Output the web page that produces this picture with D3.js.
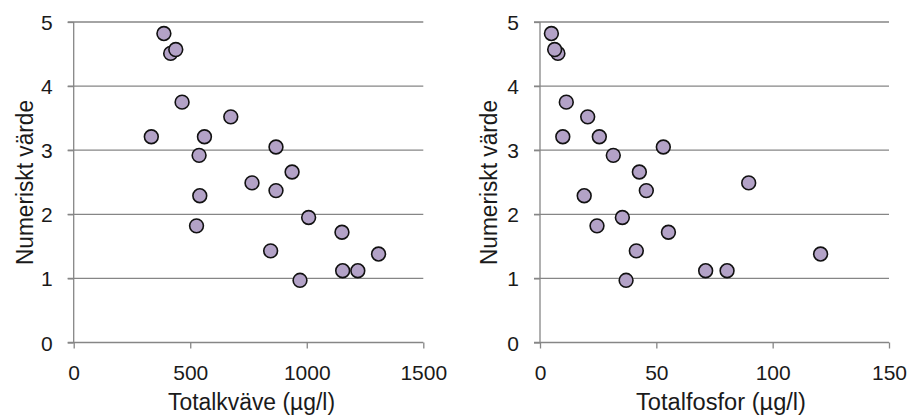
<!DOCTYPE html>
<html>
<head>
<meta charset="utf-8">
<script src="https://cdn.jsdelivr.net/npm/d3@7"></script>
<style>
  html, body { margin: 0; padding: 0; background: #fff; }
  svg { display: block; }
  text { font-family: "Liberation Sans", Arial, sans-serif; fill: #1a1a1a; }
</style>
</head>
<body>
<svg id="chart" width="908" height="416"></svg>
<script>
// Data
const varde      = [4.82, 4.51, 4.57, 3.75, 3.52, 3.21, 3.21, 3.05, 2.92, 2.66, 2.49, 2.37, 2.29, 1.95, 1.82, 1.72, 1.43, 1.38, 1.12, 1.12, 0.97];
const totalkvave = [387, 416, 438, 465, 674, 333, 561, 868, 538, 937, 765, 868, 541, 1008, 527, 1151, 845, 1308, 1154, 1219, 971];
const totalfosfor= [4.9, 7.7, 6.3, 11.3, 20.5, 9.8, 25.5, 53, 31.5, 42.7, 89.7, 45.7, 19, 35.4, 24.5, 55.2, 41.4, 120.6, 71.2, 80.4, 37];
const yTicks = [0, 1, 2, 3, 4, 5];
const xTicksN = [0, 500, 1000, 1500];
const xTicksP = [0, 50, 100, 150];
const yTitle = "Numeriskt värde";
const xTitleN = "Totalkväve (µg/l)";
const xTitleP = "Totalfosfor (µg/l)";

const svg = d3.select("#chart");
const gridColor = "#868686";
const plotTop = 22, plotBottom = 342.5;

function panel(cfg) {
  const x = d3.scaleLinear().domain(cfg.domain).range([cfg.x0, cfg.x1]);
  const y = d3.scaleLinear().domain([0, 5]).range([plotBottom, plotTop]);
  const g = svg.append("g");

  // gridlines
  g.append("g").selectAll("line").data(yTicks.filter(d => d > 0)).join("line")
    .attr("x1", cfg.x0 - 6).attr("x2", cfg.x1)
    .attr("y1", d => y(d)).attr("y2", d => y(d))
    .attr("stroke", gridColor).attr("stroke-width", 1.3);

  // y axis
  const ya = g.append("g").attr("transform", `translate(${cfg.x0},0)`)
    .call(d3.axisLeft(y).tickValues(yTicks).tickFormat(d3.format("d")).tickSize(6).tickPadding(15));
  ya.select(".domain").attr("stroke", gridColor).attr("stroke-width", 1.3).attr("d", `M0,${plotTop}V${plotBottom}`);
  ya.selectAll(".tick line").attr("stroke", gridColor).attr("stroke-width", 1.3);
  ya.selectAll(".tick text").attr("font-size", 21).attr("fill", "#1a1a1a").attr("dy", "0.36em")
    .style("font-family", "'Liberation Sans', Arial, sans-serif");

  // x axis
  const xa = g.append("g").attr("transform", `translate(0,${plotBottom})`)
    .call(d3.axisBottom(x).tickValues(cfg.ticks).tickFormat(d3.format("d")).tickSize(6).tickPadding(16));
  xa.select(".domain").attr("stroke", gridColor).attr("stroke-width", 1.3).attr("d", `M${cfg.x0 - 6},0H${cfg.x1}`);
  xa.selectAll(".tick line").attr("stroke", gridColor).attr("stroke-width", 1.3);
  xa.selectAll(".tick text").attr("font-size", 21).attr("fill", "#1a1a1a").attr("dy", "0.72em")
    .style("font-family", "'Liberation Sans', Arial, sans-serif");

  // titles
  g.append("text")
    .attr("x", cfg.xtx).attr("y", 410)
    .attr("text-anchor", "middle").attr("font-size", 23)
    .attr("textLength", cfg.xtLen).attr("lengthAdjust", "spacingAndGlyphs")
    .text(cfg.xTitle);
  g.append("text")
    .attr("transform", `translate(${cfg.ytx},182.5) rotate(-90)`)
    .attr("text-anchor", "middle").attr("font-size", 23)
    .attr("textLength", 165).attr("lengthAdjust", "spacingAndGlyphs")
    .text(yTitle);

  // points
  g.append("g").selectAll("circle").data(cfg.xs).join("circle")
    .attr("cx", d => x(d)).attr("cy", (d, i) => y(varde[i]))
    .attr("r", 6.9)
    .attr("fill", "#b3a2c7").attr("stroke", "#111").attr("stroke-width", 1.6);
}

panel({ domain: [0, 1500], x0: 73.7, x1: 423.3, ticks: xTicksN, xs: totalkvave,
        xTitle: xTitleN, xtx: 251.5, xtLen: 167, ytx: 33 });
panel({ domain: [0, 150], x0: 540, x1: 889, ticks: xTicksP, xs: totalfosfor,
        xTitle: xTitleP, xtx: 721, xtLen: 170, ytx: 497 });
</script>
</body>
</html>
